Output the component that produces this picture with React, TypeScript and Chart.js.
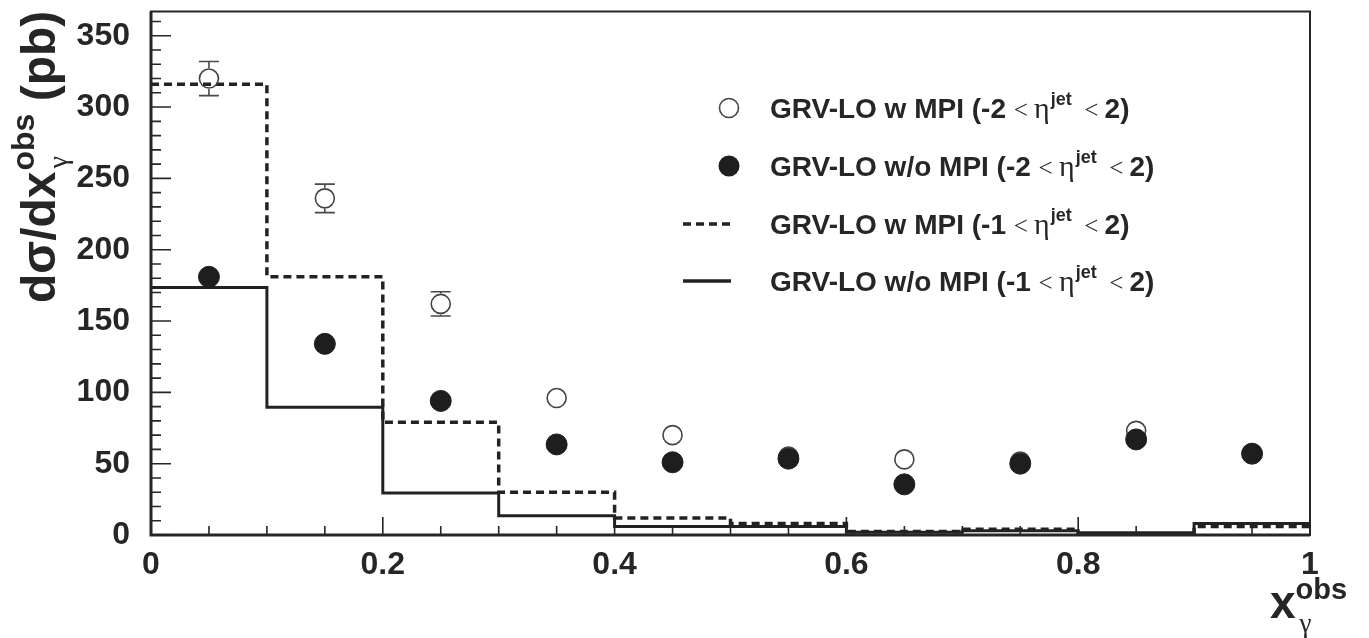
import React, { useEffect, useRef } from "react";
import { Chart, registerables } from "chart.js";

Chart.register(...registerables);

// Bin layout in x_gamma^obs
const binEdges = [0, 0.1, 0.2, 0.3, 0.4, 0.5, 0.6, 0.7, 0.8, 0.9, 1.0];
const binCentres = [0.05, 0.15, 0.25, 0.35, 0.45, 0.55, 0.65, 0.75, 0.85, 0.95];

// GRV-LO with MPI, -2 < eta_jet < 2 (open circles)
const wMpiWide = [320, 236, 162, 96, 70, 55, 53, 51.5, 73, 57];
const wMpiWideErr = [12, 10, 8.5, 3, 2.5, 2.5, 2.5, 2.5, 3, 2.5];

// GRV-LO without MPI, -2 < eta_jet < 2 (filled circles)
const woMpiWide = [181, 134, 94, 63.5, 51, 53.5, 35.5, 50, 67, 57];
const woMpiWideErr = [8, 7.5, 5, 3, 2.5, 2.5, 2, 2.5, 3, 2.5];

// GRV-LO with MPI, -1 < eta_jet < 2 (dashed histogram)
const wMpiNarrow = [316, 181, 79, 30, 12, 8, 2.5, 4, 0.8, 6];

// GRV-LO without MPI, -1 < eta_jet < 2 (solid histogram)
const woMpiNarrow = [173.5, 89.5, 29.5, 13.5, 6, 6, 2, 3, 1.5, 8];

// Axis ticks
const yTickValues = [0, 50, 100, 150, 200, 250, 300, 350];
const xTickValues = [0, 0.2, 0.4, 0.6, 0.8, 1];
const xTickLabels = ["0", "0.2", "0.4", "0.6", "0.8", "1"];

const INK = "#262626";
const SANS = "'Liberation Sans', Arial, Helvetica, sans-serif";
const SERIF = "'Liberation Serif', 'Times New Roman', serif";

type Run = { text: string; font: string; dy?: number; dx?: number; stackNext?: boolean };

// Draws a run of differently styled text pieces along a baseline
function drawRuns(ctx: CanvasRenderingContext2D, x: number, y: number, runs: Run[]) {
  let cx = x;
  let stackStart: number | null = null;
  let stackWidth = 0;
  for (const r of runs) {
    ctx.font = r.font;
    const w = ctx.measureText(r.text).width;
    const startX = stackStart !== null ? stackStart : cx;
    ctx.fillText(r.text, startX + (r.dx || 0), y + (r.dy || 0));
    if (r.stackNext) {
      stackStart = cx;
      stackWidth = w;
    } else if (stackStart !== null) {
      cx = stackStart + Math.max(stackWidth, w);
      stackStart = null;
      stackWidth = 0;
    } else {
      cx += w + (r.dx || 0);
    }
  }
  return cx;
}

function histPoints(values: number[]) {
  return binEdges.map((x, i) => ({ x, y: values[Math.min(i, values.length - 1)] }));
}

function centrePoints(values: number[]) {
  return binCentres.map((x, i) => ({ x, y: values[i] }));
}

// Vertical error bars with end caps, kept outside the marker
const errorBarPlugin = {
  id: "errorBars",
  afterDatasetsDraw(chart: any) {
    const { ctx } = chart;
    const yScale = chart.scales.y;
    chart.data.datasets.forEach((ds: any, di: number) => {
      if (!ds.errors) return;
      const meta = chart.getDatasetMeta(di);
      const r = ds.pointRadius + 1;
      ctx.save();
      ctx.strokeStyle = "#4a4a4a";
      ctx.lineWidth = 1.6;
      meta.data.forEach((pt: any, i: number) => {
        const v = ds.data[i].y;
        const e = ds.errors[i];
        const yTop = yScale.getPixelForValue(v + e);
        const yBot = yScale.getPixelForValue(v - e);
        const px = pt.x;
        const py = pt.y;
        ctx.beginPath();
        if (py - yTop > r) {
          ctx.moveTo(px, yTop);
          ctx.lineTo(px, py - r);
          ctx.moveTo(px - 10, yTop);
          ctx.lineTo(px + 10, yTop);
        }
        if (yBot - py > r) {
          ctx.moveTo(px, py + r);
          ctx.lineTo(px, yBot);
          ctx.moveTo(px - 10, yBot);
          ctx.lineTo(px + 10, yBot);
        }
        ctx.stroke();
      });
      ctx.restore();
    });
  },
};

// Frame, inward tick marks, axis titles and legend
const decorationsPlugin = {
  id: "decorations",
  afterDraw(chart: any) {
    const { ctx, chartArea } = chart;
    const { left, right, top, bottom } = chartArea;
    const xs = chart.scales.x;
    const ys = chart.scales.y;
    ctx.save();

    // frame
    ctx.strokeStyle = INK;
    ctx.lineWidth = 2;
    ctx.strokeRect(left, top, right - left, bottom - top);
    ctx.lineWidth = 3;
    ctx.beginPath();
    ctx.moveTo(left, top);
    ctx.lineTo(left, bottom);
    ctx.lineTo(right, bottom);
    ctx.stroke();

    // y ticks every 10, long every 50
    ctx.lineWidth = 1.6;
    ctx.beginPath();
    for (let v = 0; v <= 360; v += 10) {
      const py = ys.getPixelForValue(v);
      const len = v % 50 === 0 ? 20 : 10;
      ctx.moveTo(left, py);
      ctx.lineTo(left + len, py);
    }
    // x ticks every 0.05, long every 0.2
    for (let k = 0; k <= 20; k++) {
      const px = xs.getPixelForValue(k / 20);
      const len = k % 4 === 0 ? 18 : 9;
      ctx.moveTo(px, bottom);
      ctx.lineTo(px, bottom - len);
    }
    ctx.stroke();

    ctx.fillStyle = INK;
    ctx.textBaseline = "alphabetic";
    ctx.textAlign = "left";

    // y-axis title, rotated
    ctx.save();
    ctx.translate(55, 303);
    ctx.rotate(-Math.PI / 2);
    drawRuns(ctx, 0, 0, [
      { text: "d", font: `bold 48px ${SANS}` },
      { text: "σ", font: `bold 48px ${SANS}` },
      { text: "/dx", font: `bold 48px ${SANS}` },
      { text: "obs", font: `bold 32px ${SANS}`, dy: -21, dx: 1, stackNext: true },
      { text: "γ", font: `28px ${SERIF}`, dy: 12, dx: 3 },
      { text: " (pb)", font: `bold 48px ${SANS}` },
    ]);
    ctx.restore();

    // x-axis title
    drawRuns(ctx, 1270, 618, [
      { text: "x", font: `bold 46px ${SANS}` },
      { text: "obs", font: `bold 29px ${SANS}`, dy: -19, stackNext: true },
      { text: "γ", font: `27px ${SERIF}`, dy: 14, dx: 4 },
    ]);

    // legend
    const rows = [
      { y: 108, kind: "open", range: "-2" },
      { y: 166, kind: "filled", range: "-2" },
      { y: 224, kind: "dashed", range: "-1" },
      { y: 281, kind: "solid", range: "-1" },
    ];
    const labels = ["GRV-LO w MPI (", "GRV-LO w/o MPI (", "GRV-LO w MPI (", "GRV-LO w/o MPI ("];
    rows.forEach((row, i) => {
      ctx.save();
      if (row.kind === "open") {
        ctx.strokeStyle = "#444";
        ctx.lineWidth = 1.6;
        ctx.beginPath();
        ctx.arc(729, row.y, 9.5, 0, Math.PI * 2);
        ctx.stroke();
      } else if (row.kind === "filled") {
        ctx.fillStyle = "#1e1e1e";
        ctx.beginPath();
        ctx.arc(729, row.y, 10.5, 0, Math.PI * 2);
        ctx.fill();
      } else {
        ctx.strokeStyle = "#222";
        ctx.lineWidth = 3.5;
        if (row.kind === "dashed") ctx.setLineDash([8, 5]);
        ctx.beginPath();
        ctx.moveTo(683, row.y);
        ctx.lineTo(731, row.y);
        ctx.stroke();
      }
      ctx.restore();
      const base = row.y + 10;
      drawRuns(ctx, 770, base, [
        { text: labels[i] + row.range + " ", font: `bold 28px ${SANS}` },
        { text: "< ", font: `25px ${SERIF}` },
        { text: "η", font: `30px ${SERIF}` },
        { text: "jet", font: `bold 18px ${SANS}`, dy: -13, dx: 1 },
        { text: "  < ", font: `25px ${SERIF}` },
        { text: "2)", font: `bold 28px ${SANS}` },
      ]);
    });

    ctx.restore();
  },
};

export default function App() {
  const canvasRef = useRef<HTMLCanvasElement | null>(null);

  useEffect(() => {
    const canvas = canvasRef.current;
    if (!canvas) return;

    const chart = new Chart(canvas, {
      type: "line",
      data: {
        datasets: [
          {
            type: "scatter",
            label: "GRV-LO w/o MPI (-2 < eta < 2)",
            data: centrePoints(woMpiWide),
            errors: woMpiWideErr,
            pointRadius: 10.5,
            pointHoverRadius: 10.5,
            pointBackgroundColor: "#1e1e1e",
            pointBorderColor: "#1e1e1e",
            pointBorderWidth: 1,
            showLine: false,
            order: 0,
          } as any,
          {
            type: "scatter",
            label: "GRV-LO w MPI (-2 < eta < 2)",
            data: centrePoints(wMpiWide),
            errors: wMpiWideErr,
            pointRadius: 9.5,
            pointHoverRadius: 9.5,
            pointBackgroundColor: "rgba(0,0,0,0)",
            pointBorderColor: "#444",
            pointBorderWidth: 1.6,
            showLine: false,
            order: 1,
          } as any,
          {
            label: "GRV-LO w MPI (-1 < eta < 2)",
            data: histPoints(wMpiNarrow),
            stepped: "before",
            borderColor: "#222",
            borderWidth: 3.5,
            borderDash: [8, 5],
            pointRadius: 0,
            fill: false,
            order: 2,
          } as any,
          {
            label: "GRV-LO w/o MPI (-1 < eta < 2)",
            data: histPoints(woMpiNarrow),
            stepped: "before",
            borderColor: "#222",
            borderWidth: 3,
            pointRadius: 0,
            fill: false,
            order: 3,
          } as any,
        ],
      },
      options: {
        animation: false,
        responsive: true,
        maintainAspectRatio: false,
        events: [],
        layout: { padding: { top: 11, right: 59, left: 0, bottom: 0 } },
        plugins: {
          legend: { display: false },
          tooltip: { enabled: false },
        },
        scales: {
          x: {
            type: "linear",
            min: 0,
            max: 1,
            grid: { display: false },
            border: { display: false },
            afterBuildTicks: (s: any) => {
              s.ticks = xTickValues.map((v) => ({ value: v }));
            },
            afterFit: (s: any) => {
              s.height = 103;
              s.paddingLeft = 0;
              s.paddingRight = 0;
            },
            ticks: {
              callback: (_v: any, i: number) => xTickLabels[i],
              color: INK,
              padding: 3,
              maxRotation: 0,
              autoSkip: false,
              font: { family: SANS, size: 32, weight: "bold" },
            },
          },
          y: {
            type: "linear",
            min: 0,
            max: 367,
            grid: { display: false },
            border: { display: false },
            afterBuildTicks: (s: any) => {
              s.ticks = yTickValues.map((v) => ({ value: v }));
            },
            afterFit: (s: any) => {
              s.width = 151;
              s.paddingTop = 0;
              s.paddingBottom = 0;
            },
            ticks: {
              color: INK,
              padding: 13,
              autoSkip: false,
              font: { family: SANS, size: 32, weight: "bold" },
            },
          },
        },
      } as any,
      plugins: [errorBarPlugin, decorationsPlugin],
    });

    return () => chart.destroy();
  }, []);

  return (
    <div
      style={{
        position: "absolute",
        left: 0,
        top: 0,
        width: 1369,
        height: 638,
        background: "#fff",
      }}
    >
      <canvas ref={canvasRef} />
    </div>
  );
}
